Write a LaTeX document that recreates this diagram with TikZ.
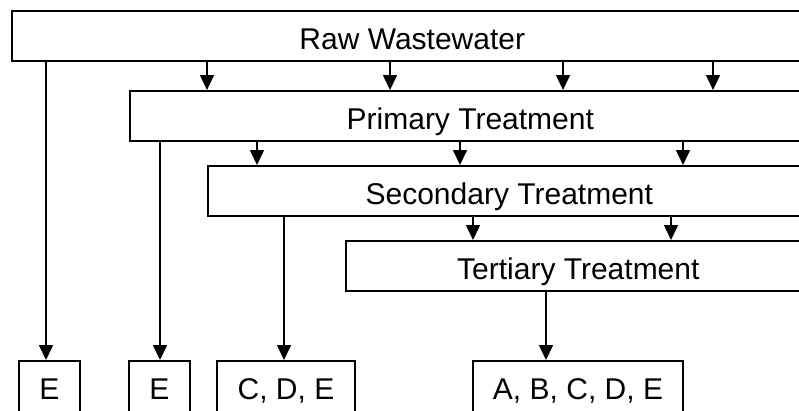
\documentclass[tikz,border=0pt]{standalone}
\usepackage{fontspec}
\setmainfont{Liberation Sans}
\usetikzlibrary{arrows.meta}
\begin{document}
\begin{tikzpicture}[x=1pt,y=-1pt,
  labelfont/.style={font=\fontsize{30}{31}\selectfont},
  stage/.style={draw, line width=1.6pt, anchor=north west, minimum height=50pt,
    inner sep=0pt, text height=28pt, text depth=0pt, labelfont},
  result/.style={draw, line width=1.6pt, anchor=north, minimum height=60pt,
    inner sep=0pt, text height=18pt, text depth=0pt, labelfont},
  flow/.style={line width=1.6pt, -{Triangle[length=15pt,width=14pt]}}]
\useasboundingbox (0,0) rectangle (799,410);
\clip (0,0) rectangle (799,410);

% treatment stages (they run on past the right edge)
\node[stage, minimum width=801pt] (raw)  at (11,10)  {Raw Wastewater};
\node[stage, minimum width=681pt] (prim) at (129,90) {Primary Treatment};
\node[stage, minimum width=603pt] (sec)  at (207,165) {Secondary Treatment};
\node[stage, minimum width=465pt] (ter)  at (345,240) {Tertiary Treatment};

% outcomes
\node[result, minimum width=61pt]  (e1)  at (49.5,360) {E};
\node[result, minimum width=61pt]  (e2)  at (159.5,360) {E};
\node[result, minimum width=138pt] (cde) at (286,360) {C, D, E};
\node[result, minimum width=210pt] (all) at (578,360) {A, B, C, D, E};

% flow between stages
\foreach \x in {207,390,563,713}
  \draw[flow] (\x,0 |- raw.south) -- (\x,0 |- prim.north);
\foreach \x in {257,460,683}
  \draw[flow] (\x,0 |- prim.south) -- (\x,0 |- sec.north);
\foreach \x in {473,671}
  \draw[flow] (\x,0 |- sec.south) -- (\x,0 |- ter.north);

% flow to outcomes
\draw[flow] (46,0 |- raw.south)  -- (46,0 |- e1.north);
\draw[flow] (160,0 |- prim.south) -- (160,0 |- e2.north);
\draw[flow] (284,0 |- sec.south)  -- (284,0 |- cde.north);
\draw[flow] (546,0 |- ter.south)  -- (546,0 |- all.north);
\end{tikzpicture}
\end{document}
